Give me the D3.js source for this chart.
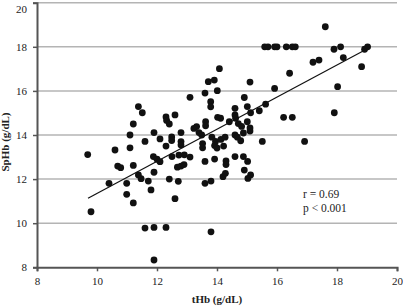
<!DOCTYPE html>
<html>
<head>
<meta charset="utf-8">
<script src="https://cdn.jsdelivr.net/npm/d3@7"></script>
<style>
  html, body { margin: 0; padding: 0; background: #fff; }
  svg { display: block; }
  text { font-family: "Liberation Serif", "Times New Roman", serif; fill: #222; }
</style>
</head>
<body>
<svg id="chart" width="403" height="307"></svg>
<script>
// tHb (g/dL) values
const tHb = [
  9.69, 9.80, 10.40, 10.60, 10.69, 10.79, 10.99, 10.99, 11.10, 11.10,
  11.21, 11.38, 11.51, 11.21, 11.21, 11.38, 11.47, 11.71, 11.60, 11.60,
  11.80, 11.90, 11.90, 11.90, 11.90, 11.88, 12.00, 12.10, 12.10, 12.30,
  12.32, 12.41, 12.30, 12.30, 12.41, 12.49, 12.49, 12.50, 12.60, 12.60,
  12.71, 12.73, 12.91, 12.80, 12.80, 12.80, 12.68, 12.80, 12.90, 13.10,
  13.10, 13.23, 13.32, 13.40, 13.49, 13.52, 13.52, 13.60, 13.60, 13.60,
  13.62, 13.62, 13.71, 13.79, 13.79, 13.80, 13.80, 13.83, 13.95, 13.92,
  14.00, 13.91, 13.92, 14.01, 14.02, 14.12, 14.08, 14.13, 14.27, 14.22,
  14.30, 14.30, 14.20, 14.28, 14.41, 14.60, 14.60, 14.62, 14.60, 14.68,
  14.79, 14.60, 14.71, 14.82, 14.88, 14.88, 15.02, 14.91, 14.91, 15.12,
  15.03, 15.01, 15.01, 15.10, 15.12, 15.10, 15.10, 15.41, 15.51, 15.62,
  15.92, 16.22, 16.51, 16.42, 16.92, 17.20, 17.40, 17.61, 17.90, 18.12,
  18.21, 18.02, 17.91, 18.82, 18.92, 19.02,
  15.59, 15.70, 15.92, 16.00, 16.31, 16.51, 16.61
];
// SpHb (g/dL) values
const SpHb = [
  13.11, 10.52, 11.81, 13.32, 12.59, 12.52, 11.81, 11.31, 14.00, 13.42,
  14.50, 15.29, 15.01, 12.62, 10.92, 12.19, 12.02, 11.91, 13.71, 9.78,
  11.51, 14.11, 12.31, 9.81, 8.33, 13.02, 12.90, 12.79, 13.82, 14.82,
  14.66, 14.50, 13.50, 9.81, 12.00, 13.91, 13.75, 13.02, 14.91, 11.11,
  11.90, 13.09, 13.10, 14.11, 13.70, 13.55, 12.54, 12.59, 12.66, 13.00,
  15.71, 14.30, 14.38, 14.11, 14.00, 13.61, 13.42, 12.80, 11.81, 15.90,
  14.60, 14.42, 16.42, 15.51, 15.28, 11.91, 9.61, 13.90, 13.71, 13.52,
  13.41, 16.49, 12.91, 16.01, 14.80, 14.76, 17.01, 13.80, 13.90, 13.50,
  12.82, 12.66, 12.11, 12.26, 14.60, 15.21, 14.91, 14.76, 14.00, 13.90,
  13.74, 13.02, 14.52, 14.39, 14.09, 13.02, 12.80, 15.70, 12.41, 12.19,
  12.03, 15.29, 14.60, 16.40, 15.01, 14.32, 14.18, 15.10, 13.71, 15.40,
  16.11, 14.80, 14.80, 16.80, 13.71, 17.30, 17.40, 18.91, 17.89, 18.00,
  17.51, 16.19, 15.01, 17.10, 17.89, 18.00,
  18.00, 18.00, 18.00, 18.00, 18.00, 18.00, 18.00
];
// regression line end points (tHb, SpHb)
const fitX = [9.70, 18.98];
const fitY = [11.13, 17.89];

const xTicks = [8, 10, 12, 14, 16, 18, 20];
const yTicks = [8, 10, 12, 14, 16, 18, 20];
const xTitle = "tHb (g/dL)";
const yTitle = "SpHb (g/dL)";
const statLines = ["r = 0.69", "p < 0.001"];

const svg = d3.select("#chart");
const x = d3.scaleLinear().domain([8, 20]).range([37, 397]);
const y = d3.scaleLinear().domain([8, 20]).range([267.3, 2.7]);

// gridlines
svg.append("g").selectAll("line")
  .data(yTicks.filter(d => d > 8))
  .join("line")
  .attr("x1", x(8)).attr("x2", x(20))
  .attr("y1", d => y(d)).attr("y2", d => y(d))
  .attr("stroke", "#b4b4b4").attr("stroke-width", 1.5);

// y axis
const yAxis = svg.append("g")
  .attr("transform", `translate(${x(8)},0)`)
  .call(d3.axisLeft(y).tickValues(yTicks).tickSize(4).tickPadding(6).tickFormat(d3.format("d")));
yAxis.select(".domain").attr("stroke", "#555").attr("stroke-width", 2);
yAxis.selectAll(".tick line").attr("stroke", "#555").attr("stroke-width", 1.5);
yAxis.selectAll("text").attr("font-size", 11).attr("fill", "#222")
  .attr("font-family", "Liberation Serif, serif")
  .attr("dy", d => d === 20 ? "0.85em" : "0.32em");

// x axis
const xAxis = svg.append("g")
  .attr("transform", `translate(0,${y(8)})`)
  .call(d3.axisBottom(x).tickValues(xTicks).tickSize(4).tickPadding(6).tickFormat(d3.format("d")));
xAxis.select(".domain").attr("stroke", "#555").attr("stroke-width", 2);
xAxis.selectAll(".tick line").attr("stroke", "#555").attr("stroke-width", 1.5);
xAxis.selectAll("text").attr("font-size", 11).attr("fill", "#222")
  .attr("font-family", "Liberation Serif, serif");

// points
const pts = tHb.map((v, i) => ({ x: v, y: SpHb[i] }));
svg.append("g").selectAll("circle")
  .data(pts)
  .join("circle")
  .attr("cx", d => x(d.x))
  .attr("cy", d => y(d.y))
  .attr("r", 3.4)
  .attr("fill", "#111");

// regression line
svg.append("line")
  .attr("x1", x(fitX[0])).attr("y1", y(fitY[0]))
  .attr("x2", x(fitX[1])).attr("y2", y(fitY[1]))
  .attr("stroke", "#111").attr("stroke-width", 1.2);

// stats text
svg.append("g").selectAll("text")
  .data(statLines)
  .join("text")
  .attr("x", 303)
  .attr("y", (d, i) => 198 + i * 14)
  .attr("font-size", 11.5)
  .text(d => d);

// axis titles
svg.append("text")
  .attr("x", (x(8) + x(20)) / 2)
  .attr("y", 303)
  .attr("text-anchor", "middle")
  .attr("font-size", 11)
  .attr("font-weight", "bold")
  .text(xTitle);

svg.append("text")
  .attr("transform", `translate(9,${(y(8) + y(20)) / 2 + 7}) rotate(-90)`)
  .attr("text-anchor", "middle")
  .attr("font-size", 11)
  .attr("font-weight", "bold")
  .text(yTitle);
</script>
</body>
</html>
